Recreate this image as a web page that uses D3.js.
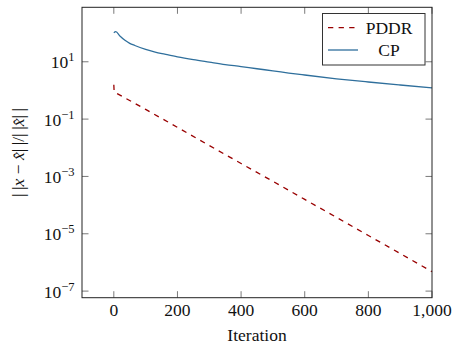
<!DOCTYPE html>
<html>
<head>
<meta charset="utf-8">
<script src="https://cdn.jsdelivr.net/npm/d3@7/dist/d3.min.js"></script>
<style>
  html, body { margin: 0; padding: 0; background: #fff; }
  svg { display: block; }
  text { font-family: "Liberation Serif", "Times New Roman", serif; fill: #111; }
</style>
</head>
<body>
<div id="chart"></div>
<script>
// values
const pddrIter = [0, 1, 100, 200, 300, 400, 500, 600, 700, 800, 900, 1000];
const pddrErr = [1.58, 0.89, 0.219, 0.0513, 0.012, 2.82e-3, 6.76e-4, 1.58e-4, 3.72e-5, 8.71e-6, 2.04e-6, 4.79e-7];

const cpIter = [0, 6, 20, 35, 50, 66, 100, 130, 160, 200, 250, 300, 350, 400, 450, 500, 550, 600, 700, 800, 900, 1000];
const cpErr = [102, 112, 78, 56, 44, 37, 27, 21.8, 18.4, 14.8, 11.8, 9.7, 8.0, 6.8, 5.7, 4.85, 4.05, 3.45, 2.55, 1.97, 1.55, 1.23];

const xTicks = [0, 200, 400, 600, 800, 1000];
const yTickExp = [1, -1, -3, -5, -7];

const series = [
  { name: "PDDR", color: "#990000", dash: "5.3,5.3", pts: pddrIter.map((d, i) => ({ x: d, y: pddrErr[i] })) },
  { name: "CP", color: "#2f6f9c", dash: null, pts: cpIter.map((d, i) => ({ x: d, y: cpErr[i] })) }
];

const W = 452, H = 347;
const plot = { left: 82, right: 432, top: 7.3, bottom: 297.7 };
const FS = 17.5;

const svg = d3.select("#chart").append("svg")
  .attr("width", W)
  .attr("height", H);

const x = d3.scaleLinear().domain([-100, 1000]).range([plot.left, plot.right]);
const y = d3.scaleLog().domain([Math.pow(10, -7.23), Math.pow(10, 2.9)]).range([plot.bottom, plot.top]);

const fmtX = d3.format(",");
const tickLen = 6.5;
const tickColor = "#7a7a7a";

// ticks (inside, on all four sides)
const ticks = svg.append("g").attr("stroke", tickColor).attr("stroke-width", 1);
xTicks.forEach(t => {
  ticks.append("line").attr("x1", x(t)).attr("x2", x(t)).attr("y1", plot.bottom).attr("y2", plot.bottom - tickLen);
  ticks.append("line").attr("x1", x(t)).attr("x2", x(t)).attr("y1", plot.top).attr("y2", plot.top + tickLen);
});
yTickExp.forEach(e => {
  const yy = y(Math.pow(10, e));
  ticks.append("line").attr("x1", plot.left).attr("x2", plot.left + tickLen).attr("y1", yy).attr("y2", yy);
  ticks.append("line").attr("x1", plot.right).attr("x2", plot.right - tickLen).attr("y1", yy).attr("y2", yy);
});

// lines
series.forEach(s => {
  const line = d3.line().x(d => x(d.x)).y(d => y(d.y))
    .curve(s.dash ? d3.curveLinear : d3.curveMonotoneX);
  svg.append("path")
    .datum(s.pts)
    .attr("fill", "none")
    .attr("stroke", s.color)
    .attr("stroke-width", 1.3)
    .attr("stroke-dasharray", s.dash)
    .attr("d", line);
});

// frame
svg.append("rect")
  .attr("x", plot.left).attr("y", plot.top)
  .attr("width", plot.right - plot.left).attr("height", plot.bottom - plot.top)
  .attr("fill", "none").attr("stroke", "#222").attr("stroke-width", 1);

// x tick labels
xTicks.forEach(t => {
  svg.append("text")
    .attr("x", x(t)).attr("y", 316)
    .attr("text-anchor", "middle")
    .attr("font-size", FS)
    .text(fmtX(t));
});

// y tick labels 10^e
yTickExp.forEach(e => {
  const yy = y(Math.pow(10, e));
  const t = svg.append("text")
    .attr("x", 74.5).attr("y", yy + 6.5)
    .attr("text-anchor", "end")
    .attr("font-size", FS);
  t.append("tspan").text("10");
  t.append("tspan").attr("dy", -7).attr("font-size", 12.5).text(e < 0 ? "\u2212" + (-e) : String(e));
});

// axis titles
svg.append("text")
  .attr("x", (plot.left + plot.right) / 2).attr("y", 341)
  .attr("text-anchor", "middle")
  .attr("font-size", FS)
  .text("Iteration");

const yl = svg.append("text")
  .attr("transform", `translate(24,${(plot.top + plot.bottom) / 2}) rotate(-90)`)
  .attr("text-anchor", "middle")
  .attr("font-size", FS);
const bars = "|\u2009|";
yl.append("tspan").text(bars);
yl.append("tspan").attr("font-style", "italic").text("x");
yl.append("tspan").text(" \u2212 ");
yl.append("tspan").attr("font-style", "italic").text("x\u0302");
yl.append("tspan").text(bars + "/" + bars);
yl.append("tspan").attr("font-style", "italic").text("x\u0302");
yl.append("tspan").text(bars);

// legend
const lg = svg.append("g");
lg.append("rect")
  .attr("x", 322.5).attr("y", 13.5).attr("width", 102.5).attr("height", 51.5)
  .attr("fill", "#fff").attr("stroke", "#333").attr("stroke-width", 1);
series.forEach((s, i) => {
  const cy = 27.7 + i * 22.3;
  lg.append("line")
    .attr("x1", 328).attr("x2", 358).attr("y1", cy).attr("y2", cy)
    .attr("stroke", s.color).attr("stroke-width", 1.3)
    .attr("stroke-dasharray", s.dash ? "5.3,5.3" : null);
  lg.append("text")
    .attr("x", 389).attr("y", cy + 5.8)
    .attr("text-anchor", "middle")
    .attr("font-size", FS)
    .text(s.name);
});
</script>
</body>
</html>
